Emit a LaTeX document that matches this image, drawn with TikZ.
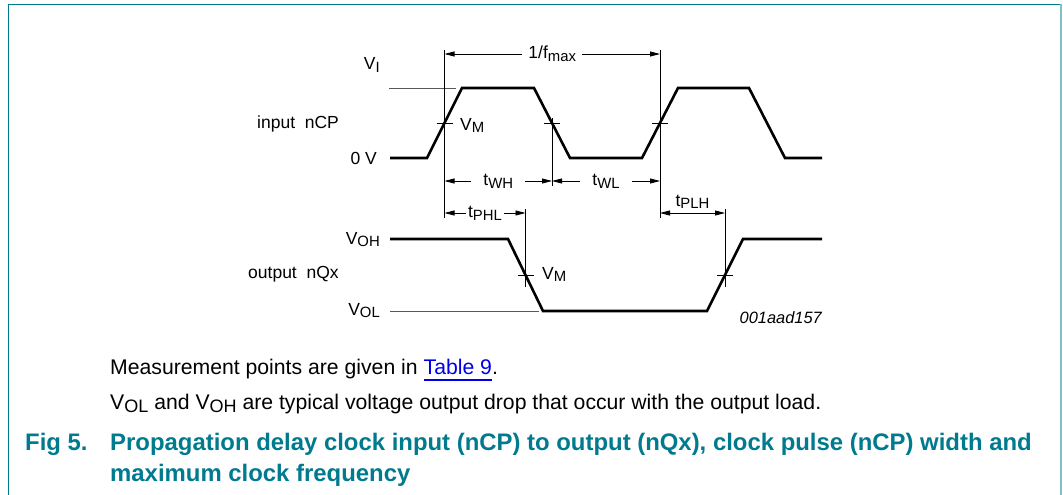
\documentclass[tikz,border=0pt]{standalone}
\usepackage{fontspec}
\usepackage{graphicx}
\setmainfont{Liberation Sans}
\usetikzlibrary{arrows.meta,calc}
\definecolor{figteal}{RGB}{0,122,142}
\definecolor{figedge}{RGB}{128,190,202}
\definecolor{linkblue}{RGB}{0,0,230}
\newcommand{\lowsub}[1]{\raisebox{-0.17em}{\scalebox{0.85}{#1}}}
\newcommand{\linkul}[1]{{\color{linkblue}\setbox0=\hbox{#1}\rlap{\rule[-6.5pt]{\wd0}{1.3pt}}\box0}}

\begin{document}
\begin{tikzpicture}[x=1pt,y=-1pt,
    wave/.style={line width=2.6pt},
    level/.style={line width=0.8pt,black!65},
    guide/.style={line width=0.8pt},
    dim/.style={line width=0.8pt,-{Triangle[length=10pt,width=5pt]}},
    dimboth/.style={line width=0.8pt,{Triangle[length=10pt,width=5pt]}-{Triangle[length=10pt,width=5pt]}},
    lbl/.style={font=\fontsize{17.5}{20}\selectfont,inner sep=0pt},
    note/.style={font=\fontsize{21.2}{25}\selectfont,inner sep=0pt,anchor=base west},
    capt/.style={font=\fontsize{23.9}{28}\selectfont\bfseries,text=figteal,inner sep=0pt,anchor=base west}]
\useasboundingbox (0,0) rectangle (1063,495);

% frame
\draw[figteal,line width=1.5pt] (8.5,495) -- (8.5,4.5) -- (1061,4.5);
\draw[figedge,line width=2pt] (1061,3.75) -- (1061,495);

% reference levels
\draw[level] (389,88) -- (456,88);
\draw[level] (390,311) -- (539,311);

% waveforms
\draw[wave] (390,158) -- (427,158) -- (462,88) -- (534,88) -- (570,158) -- (642,158) -- (678,88) -- (749,88) -- (785,158) -- (822,158);
\draw[wave] (390,239) -- (508,239) -- (543,311) -- (707,311) -- (743,239) -- (822,239);

% V_M crossings
\coordinate (r1) at (444.5,123);
\coordinate (f1) at (552,123);
\coordinate (r2) at (660,123);
\coordinate (qf) at (525.5,275);
\coordinate (qr) at (725,275);
\foreach \p in {r1,f1,r2,qf,qr}
    \draw[guide] ($(\p)+(-8,0)$) -- ($(\p)+(8,0)$);

% vertical guides
\coordinate (r1t) at (444.5,50);  \coordinate (r1b) at (444.5,218);
\coordinate (f1t) at (552,118);   \coordinate (f1b) at (552,186);
\coordinate (r2t) at (660,50);    \coordinate (r2b) at (660,218);
\coordinate (qft) at (525.5,209); \coordinate (qfb) at (525.5,287);
\coordinate (qrt) at (725,209);   \coordinate (qrb) at (725,287);
\draw[guide] (r1t) -- (r1b);
\draw[guide] (f1t) -- (f1b);
\draw[guide] (r2t) -- (r2b);
\draw[guide] (qft) -- (qfb);
\draw[guide] (qrt) -- (qrb);

% 1/fmax
\coordinate (fa) at (444.5,54);
\coordinate (fb) at (660,54);
\node[lbl,inner xsep=6pt] (fmax) at ($(fa)!0.5!(fb)$) {1/f\lowsub{max}};
\draw[dim] (fmax) -- (fa);
\draw[dim] (fmax) -- (fb);

% pulse widths
\coordinate (wa) at (444.5,181);
\coordinate (wb) at (552,181);
\coordinate (wc) at (660,181);
\node[lbl,inner xsep=12pt] (twh) at ($(wa)!0.5!(wb)$) {t\lowsub{WH}};
\draw[dim] (twh) -- (wa);
\draw[dim] (twh) -- (wb);
\node[lbl,inner xsep=12pt] (twl) at ($(wb)!0.5!(wc)$) {t\lowsub{WL}};
\draw[dim] (twl) -- (wb);
\draw[dim] (twl) -- (wc);

% propagation delays
\coordinate (pa) at (444.5,213);
\coordinate (pb) at (525.5,213);
\coordinate (pc) at (660,213);
\coordinate (pd) at (725,213);
\node[lbl,inner xsep=2pt] (tphl) at ($(pa)!0.5!(pb)$) {t\lowsub{PHL}};
\draw[dim] (tphl) -- (pa);
\draw[dim] (tphl) -- (pb);
\draw[dimboth] (pc) -- (pd);
\node[lbl,anchor=base] (tplh) at ($(pc)!0.5!(pd)+(0,-7)$) {t\lowsub{PLH}};

% level and signal labels
\node[lbl,anchor=base east] (vi) at (380,70) {V\lowsub{I}};
\node[lbl,anchor=base west] (incp) at (257,128) {input\ \ nCP};
\node[lbl,anchor=base east] (zero) at (377,164) {0 V};
\node[lbl,anchor=base west] (vm1) at (460,130) {V\lowsub{M}};
\node[lbl,anchor=base east] (voh) at (380,244) {V\lowsub{OH}};
\node[lbl,anchor=base west] (onqx) at (248,278) {output\ \ nQx};
\node[lbl,anchor=base east] (vol) at (380,315) {V\lowsub{OL}};
\node[lbl,anchor=base west] (vm2) at (542,279) {V\lowsub{M}};
\node[lbl,anchor=base east,font=\fontsize{16.4}{20}\selectfont\itshape] (code) at (822,323) {001aad157};

% notes
\node[note] (note1) at (110,374) {Measurement points are given in \linkul{Table 9}.};
\node[note] (note2) at (110,409) {V\lowsub{OL} and V\lowsub{OH} are typical voltage output drop that occur with the output load.};

% caption
\node[capt] (fig) at (25,450) {Fig 5.};
\node[capt] (cap1) at (110,450) {Propagation delay clock input (nCP) to output (nQx), clock pulse (nCP) width and};
\node[capt] (cap2) at (110,481) {maximum clock frequency};
\end{tikzpicture}
\end{document}
